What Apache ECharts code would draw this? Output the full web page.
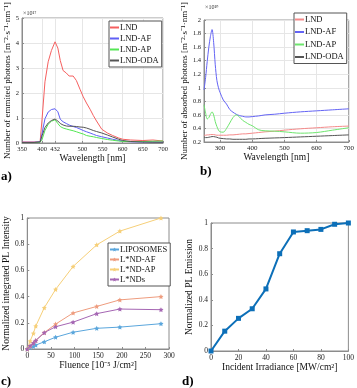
<!DOCTYPE html>
<html>
<head>
<meta charset="utf-8">
<script src="https://cdn.jsdelivr.net/npm/echarts@6/dist/echarts.min.js"></script>
<style>
  html, body { margin: 0; padding: 0; background: #fff; }
  #main { width: 357px; height: 388px; }
</style>
</head>
<body>
<div id="main"></div>
<script>
// ---- panel a: emitted photons (x1e17) ----
var emWave = [350, 380, 395, 400, 407, 415, 423, 432, 439, 445, 452, 460, 467, 477, 485, 494, 502, 510, 519, 527, 535, 548, 562, 575, 590, 600, 620, 650, 675, 700];
var emLND = [0.04, 0.04, 0.06, 1.0, 2.45, 3.25, 3.7, 4.05, 3.8, 3.3, 2.9, 2.8, 2.68, 2.68, 2.5, 2.15, 1.85, 1.6, 1.35, 1.1, 0.88, 0.55, 0.4, 0.3, 0.2, 0.15, 0.12, 0.1, 0.12, 0.08];
var emAF = [0.03, 0.03, 0.05, 0.4, 0.97, 1.24, 1.34, 1.37, 1.25, 0.95, 0.85, 0.78, 0.72, 0.66, 0.62, 0.56, 0.5, 0.45, 0.4, 0.35, 0.3, 0.25, 0.2, 0.15, 0.1, 0.07, 0.05, 0.04, 0.04, 0.03];
var emAP = [0.02, 0.02, 0.03, 0.15, 0.5, 0.75, 0.87, 0.93, 0.78, 0.66, 0.6, 0.56, 0.53, 0.49, 0.45, 0.4, 0.36, 0.3, 0.27, 0.25, 0.22, 0.18, 0.14, 0.11, 0.08, 0.06, 0.06, 0.06, 0.07, 0.08];
var emODA = [0.02, 0.02, 0.04, 0.3, 0.62, 0.8, 0.9, 0.96, 0.88, 0.78, 0.72, 0.68, 0.67, 0.67, 0.66, 0.64, 0.63, 0.6, 0.55, 0.5, 0.46, 0.4, 0.32, 0.24, 0.15, 0.1, 0.06, 0.04, 0.03, 0.03];
var emTicks = [350, 400, 432, 500, 550, 600, 650, 700];

// ---- panel b: absorbed photons (x1e19) ----
var abWave = [250, 255, 260, 265, 270, 275, 280, 285, 290, 295, 300, 310, 320, 330, 340, 350, 360, 370, 380, 390, 400, 420, 440, 470, 500, 550, 600, 650, 700];
var abLND = [0.3, 0.3, 0.305, 0.305, 0.31, 0.31, 0.31, 0.305, 0.3, 0.3, 0.3, 0.3, 0.3, 0.305, 0.305, 0.31, 0.315, 0.32, 0.32, 0.325, 0.33, 0.34, 0.35, 0.36, 0.375, 0.395, 0.41, 0.425, 0.435];
var abAF = [0.97, 1.15, 1.39, 1.6, 1.76, 1.86, 1.67, 1.34, 1.11, 1.0, 0.93, 0.82, 0.76, 0.68, 0.64, 0.61, 0.59, 0.58, 0.57, 0.57, 0.575, 0.585, 0.6, 0.61, 0.625, 0.645, 0.66, 0.675, 0.69];
var abAP = [0.75, 0.63, 0.54, 0.56, 0.61, 0.645, 0.6, 0.5, 0.43, 0.375, 0.35, 0.345, 0.4, 0.48, 0.56, 0.6, 0.57, 0.52, 0.49, 0.46, 0.44, 0.38, 0.365, 0.36, 0.35, 0.33, 0.34, 0.375, 0.41];
var abODA = [0.27, 0.265, 0.265, 0.27, 0.275, 0.28, 0.28, 0.275, 0.27, 0.26, 0.255, 0.25, 0.245, 0.245, 0.24, 0.24, 0.24, 0.24, 0.24, 0.245, 0.245, 0.25, 0.255, 0.26, 0.265, 0.275, 0.285, 0.295, 0.305];
var abTicks = [300, 400, 500, 600, 700];

// ---- panel c: PL intensity vs fluence ----
var fluence = [0, 6, 13, 18, 36, 60, 97, 147, 196, 283];
var plLipo = [0, 0.01, 0.02, 0.03, 0.055, 0.09, 0.128, 0.158, 0.167, 0.193];
var plAF = [0, 0.02, 0.045, 0.065, 0.125, 0.19, 0.275, 0.325, 0.375, 0.4];
var plAP = [0, 0.06, 0.12, 0.175, 0.315, 0.455, 0.63, 0.795, 0.9, 1.0];
var plNDs = [0, 0.025, 0.045, 0.065, 0.125, 0.17, 0.205, 0.27, 0.305, 0.3];

// ---- panel d: PL emission vs irradiance ----
var irradiance = [0, 10, 20, 30, 40, 50, 60, 70, 80, 90, 100];
var plEmission = [0, 0.155, 0.255, 0.33, 0.485, 0.76, 0.93, 0.94, 0.95, 0.99, 1.0];

var FONT = "Liberation Serif";
var star = "path://M0,-10L2.9,-4L9.5,-3.1L4.8,1.5L5.9,8.1L0,5L-5.9,8.1L-4.8,1.5L-9.5,-3.1L-2.9,-4Z";
var FRAME = "#8c8c8c";

function pairs(xs, ys) {
  return xs.map(function (x, i) { return [x, ys[i]]; });
}

function axisBase(extra) {
  var ax = {
    type: "value",
    axisLine: { show: true, lineStyle: { color: FRAME, width: 1 } },
    axisTick: { show: true, inside: true, length: 2, lineStyle: { color: FRAME } },
    axisLabel: { fontFamily: FONT, fontSize: 7.5, color: "#222", margin: 3 },
    splitLine: { show: false },
    nameLocation: "middle",
    nameTextStyle: { fontFamily: FONT, fontSize: 9.5, color: "#111" }
  };
  for (var k in extra) ax[k] = extra[k];
  return ax;
}

function legend(extra) {
  var l = {
    orient: "vertical",
    backgroundColor: "#fff",
    borderColor: "#555",
    borderWidth: 1,
    borderRadius: 0,
    padding: [2, 3, 2, 1],
    itemWidth: 9,
    itemHeight: 2,
    itemGap: 2,
    icon: "rect",
    textStyle: { fontFamily: FONT, fontSize: 8.5, color: "#111", padding: [0, 0, 0, -4] }
  };
  for (var k in extra) l[k] = extra[k];
  return l;
}

function line(name, xi, data, color, extra) {
  var s = {
    name: name, type: "line", xAxisIndex: xi, yAxisIndex: xi,
    data: data, symbol: "none", color: color,
    lineStyle: { width: 1, color: color }, animation: false
  };
  for (var k in extra) s[k] = extra[k];
  return s;
}

var chart = echarts.init(document.getElementById("main"));
chart.setOption({
  backgroundColor: "#fff",
  animation: false,
  grid: [
    { left: 22, top: 16, width: 141, height: 127, show: true, borderColor: FRAME, borderWidth: 1 },
    { left: 204, top: 11, width: 147, height: 131, show: true, borderColor: FRAME, borderWidth: 1 },
    { left: 23, top: 218, width: 146, height: 131, show: true, borderColor: FRAME, borderWidth: 1 },
    { left: 211, top: 223, width: 142, height: 128, show: true, borderColor: FRAME, borderWidth: 1 }
  ],
  xAxis: [
    axisBase({ gridIndex: 0, min: 350, max: 700, name: "Wavelength [nm]", nameGap: 9,
      axisTick: { show: true, inside: true, length: 2, customValues: emTicks, lineStyle: { color: FRAME } },
      axisLabel: { fontFamily: FONT, fontSize: 6.5, color: "#222", margin: 3, customValues: emTicks },
      splitLine: { show: true, lineStyle: { color: "#e6e6e6" } } }),
    axisBase({ gridIndex: 1, min: 250, max: 700, name: "Wavelength [nm]", nameGap: 10,
      axisTick: { show: true, inside: true, length: 2, customValues: abTicks, lineStyle: { color: FRAME } },
      axisLabel: { fontFamily: FONT, fontSize: 7, color: "#222", margin: 3, customValues: abTicks },
      splitLine: { show: true, lineStyle: { color: "#e6e6e6" } } }),
    axisBase({ gridIndex: 2, min: 0, max: 300, interval: 50, name: "Fluence [10⁻⁵ J/cm²]", nameGap: 11 }),
    axisBase({ gridIndex: 3, min: 0, max: 100, interval: 20, name: "Incident Irradiance [MW/cm²]", nameGap: 9 })
  ],
  yAxis: [
    axisBase({ gridIndex: 0, min: 0, max: 5, interval: 1, nameGap: 9,
      name: "Number of emmited photons [m⁻²·s⁻¹·nm⁻¹]",
      axisLabel: { fontFamily: FONT, fontSize: 6.5, color: "#222", margin: 3 },
      nameTextStyle: { fontFamily: FONT, fontSize: 9, color: "#111" },
      splitLine: { show: true, lineStyle: { color: "#e6e6e6" } } }),
    axisBase({ gridIndex: 1, min: 0.2, max: 2, interval: 0.2, nameGap: 14,
      name: "Number of absorbed photons [m⁻²·s⁻¹·nm⁻¹]",
      nameTextStyle: { fontFamily: FONT, fontSize: 9, color: "#111" },
      axisLabel: { fontFamily: FONT, fontSize: 6.5, color: "#222", margin: 3,
        formatter: function (v) { return String(+v.toFixed(1)); } },
      splitLine: { show: true, lineStyle: { color: "#e6e6e6" } } }),
    axisBase({ gridIndex: 2, min: 0, max: 1, interval: 0.2, nameGap: 14,
      name: "Normalized integrated PL Intensity",
      axisLabel: { fontFamily: FONT, fontSize: 7.5, color: "#222", margin: 3,
        formatter: function (v) { return String(+v.toFixed(1)); } } }),
    axisBase({ gridIndex: 3, min: 0, max: 1, interval: 0.2, nameGap: 14,
      name: "Normalized PL Emission",
      axisLabel: { fontFamily: FONT, fontSize: 7.5, color: "#222", margin: 3,
        formatter: function (v) { return String(+v.toFixed(1)); } } })
  ],
  legend: [
    legend({ left: 109, top: 21, data: ["LND", "LND-AF", "LND-AP", "LND-ODA"] }),
    legend({ left: 294, top: 13, itemGap: 3.5, data: ["LND ", "LND-AF ", "LND-AP ", "LND-ODA "],
      formatter: function (n) { return n.trim(); } }),
    legend({ left: 108, top: 243, icon: null, itemHeight: 5, itemWidth: 9, itemGap: 1,
      data: ["LIPOSOMES", "L*ND-AF", "L*ND-AP", "L*NDs"] })
  ],
  series: [
    line("LND", 0, pairs(emWave, emLND), "#f55f5f"),
    line("LND-AF", 0, pairs(emWave, emAF), "#5f5ff5"),
    line("LND-AP", 0, pairs(emWave, emAP), "#55e655"),
    line("LND-ODA", 0, pairs(emWave, emODA), "#555555"),

    line("LND ", 1, pairs(abWave, abLND), "#f58a8a", { smooth: 0.3 }),
    line("LND-AF ", 1, pairs(abWave, abAF), "#6464f5", { smooth: 0.3 }),
    line("LND-AP ", 1, pairs(abWave, abAP), "#6ee66e", { smooth: 0.3 }),
    line("LND-ODA ", 1, pairs(abWave, abODA), "#555555", { smooth: 0.3 }),

    line("LIPOSOMES", 2, pairs(fluence, plLipo), "#5aa6dc", { symbol: star, symbolSize: 5 }),
    line("L*ND-AF", 2, pairs(fluence, plAF), "#ee9c7e", { symbol: star, symbolSize: 5 }),
    line("L*ND-AP", 2, pairs(fluence, plAP), "#f6cf78", { symbol: star, symbolSize: 5 }),
    line("L*NDs", 2, pairs(fluence, plNDs), "#a566b3", { symbol: star, symbolSize: 5 }),

    line("PL", 3, pairs(irradiance, plEmission), "#0c6fb8",
      { symbol: "rect", symbolSize: 5, lineStyle: { width: 2, color: "#0c6fb8" } })
  ],
  graphic: [
    { type: "text", left: 23, top: 10, style: { text: "×10¹⁷", font: "6px " + FONT, fill: "#333" } },
    { type: "text", left: 205, top: 4, style: { text: "×10¹⁹", font: "6px " + FONT, fill: "#333" } },
    { type: "text", left: 1, top: 170, style: { text: "a)", font: "bold 13px " + FONT, fill: "#000" } },
    { type: "text", left: 200, top: 165, style: { text: "b)", font: "bold 13px " + FONT, fill: "#000" } },
    { type: "text", left: 1, top: 375, style: { text: "c)", font: "bold 13px " + FONT, fill: "#000" } },
    { type: "text", left: 182, top: 375, style: { text: "d)", font: "bold 13px " + FONT, fill: "#000" } }
  ]
});
</script>
</body>
</html>
